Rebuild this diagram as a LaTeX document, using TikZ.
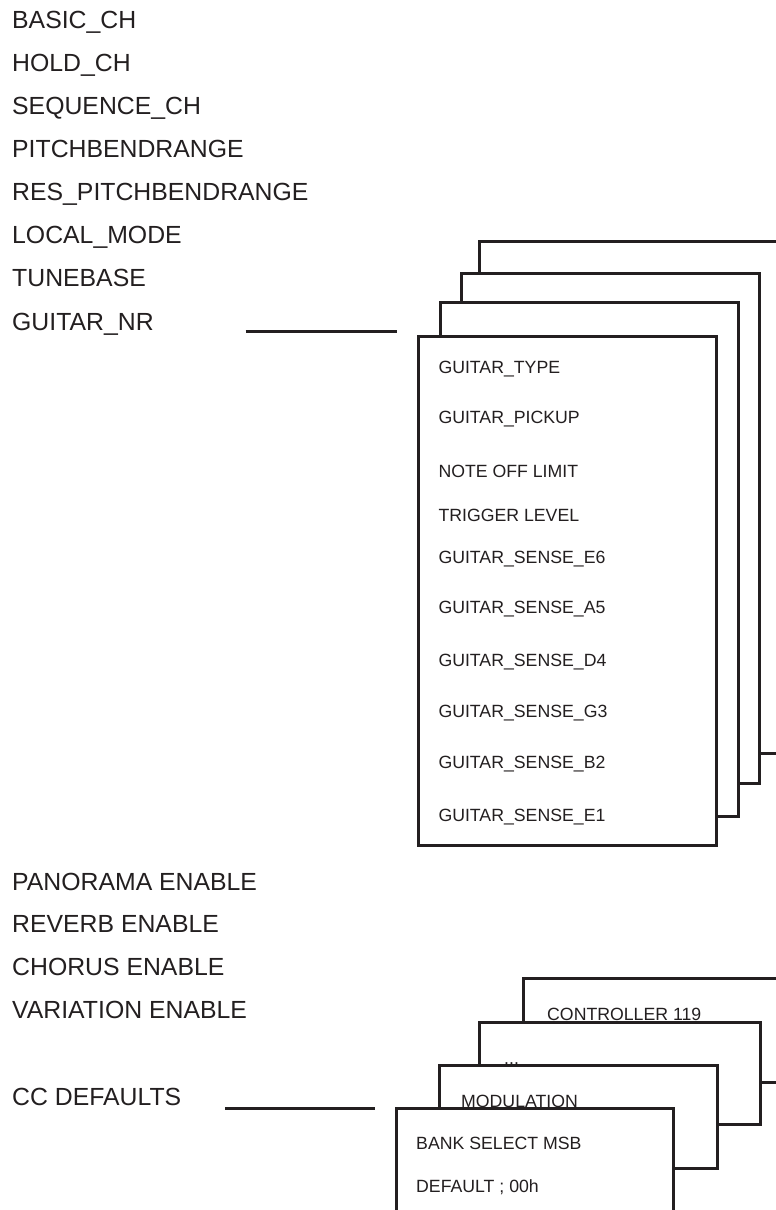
\documentclass[tikz,border=0pt]{standalone}
\usepackage{fontspec}
\setmainfont{Liberation Sans}
\definecolor{ink}{HTML}{231F20}
\begin{document}
\begin{tikzpicture}[x=1pt,y=-1pt,
  lbl/.style={anchor=base west,inner sep=0pt,text=ink,font=\fontsize{24.8}{28}\selectfont},
  sml/.style={anchor=base west,inner sep=0pt,text=ink,font=\fontsize{17.7}{20}\selectfont},
  card/.style={draw=ink,line width=3pt,fill=white,anchor=north west,inner sep=0pt,outer sep=0pt},
  link/.style={draw=ink,line width=3pt}]
\useasboundingbox (0,0) rectangle (776,1210);
\clip (0,0) rectangle (776,1210);

% left list
\node[lbl] (basic) at (12,28.3) {BASIC\_CH};
\node[lbl] (hold) at (12,71.4) {HOLD\_CH};
\node[lbl] (seq) at (12,114.5) {SEQUENCE\_CH};
\node[lbl] (pbr) at (12,157.6) {PITCHBENDRANGE};
\node[lbl] (rpbr) at (12,200.7) {RES\_PITCHBENDRANGE};
\node[lbl] (local) at (12,243.8) {LOCAL\_MODE};
\node[lbl] (tune) at (12,286.9) {TUNEBASE};
\node[lbl] (gnr) at (12,330) {GUITAR\_NR};

\node[lbl] (pan) at (12,890) {PANORAMA ENABLE};
\node[lbl] (rev) at (12,932.7) {REVERB ENABLE};
\node[lbl] (cho) at (12,975.3) {CHORUS ENABLE};
\node[lbl] (var) at (12,1018.3) {VARIATION ENABLE};
\node[lbl] (cc) at (12,1105) {CC DEFAULTS};

% guitar cards (back to front)
\node[card,minimum width=300pt,minimum height=512pt] (g4) at (479,241) {};
\node[card,minimum width=298pt,minimum height=510pt] (g3) at (461,273) {};
\node[card,minimum width=298pt,minimum height=514pt] (g2) at (440,302) {};
\node[card,minimum width=298pt,minimum height=509pt] (g1) at (418,336) {};

\node[sml] (gt) at (438.3,373) {GUITAR\_TYPE};
\node[sml] (gp) at (438.3,423.3) {GUITAR\_PICKUP};
\node[sml] (nol) at (438.3,477.3) {NOTE OFF LIMIT};
\node[sml] (trl) at (438.3,521) {TRIGGER LEVEL};
\node[sml] (se6) at (438.3,563.3) {GUITAR\_SENSE\_E6};
\node[sml] (sa5) at (438.3,613.3) {GUITAR\_SENSE\_A5};
\node[sml] (sd4) at (438.3,666.7) {GUITAR\_SENSE\_D4};
\node[sml] (sg3) at (438.3,717.3) {GUITAR\_SENSE\_G3};
\node[sml] (sb2) at (438.3,768.3) {GUITAR\_SENSE\_B2};
\node[sml] (se1) at (438.3,821.7) {GUITAR\_SENSE\_E1};

\coordinate (gnrA) at (245.5,331);
\coordinate (gnrB) at (396.7,331);
\draw[link] (gnrA) -- (gnrB);

% CC cards (back to front)
\node[card,minimum width=280pt,minimum height=104pt] (c4) at (523,978) {};
\node[sml] (c119) at (547,1020) {CONTROLLER 119};
\node[card,minimum width=281pt,minimum height=102pt] (c3) at (479,1022) {};
\node[sml] (cdots) at (504,1064) {...};
\node[card,minimum width=278pt,minimum height=103pt] (c2) at (439,1065) {};
\node[sml] (cmod) at (461,1107) {MODULATION};
\node[card,minimum width=277pt,minimum height=110pt] (c1) at (396,1108) {};
\node[sml] (cbank) at (416,1149.3) {BANK SELECT MSB};
\node[sml] (cdef) at (416,1192.7) {DEFAULT ; 00h};

\coordinate (ccA) at (225,1108);
\coordinate (ccB) at (375,1108);
\draw[link] (ccA) -- (ccB);
\end{tikzpicture}
\end{document}
